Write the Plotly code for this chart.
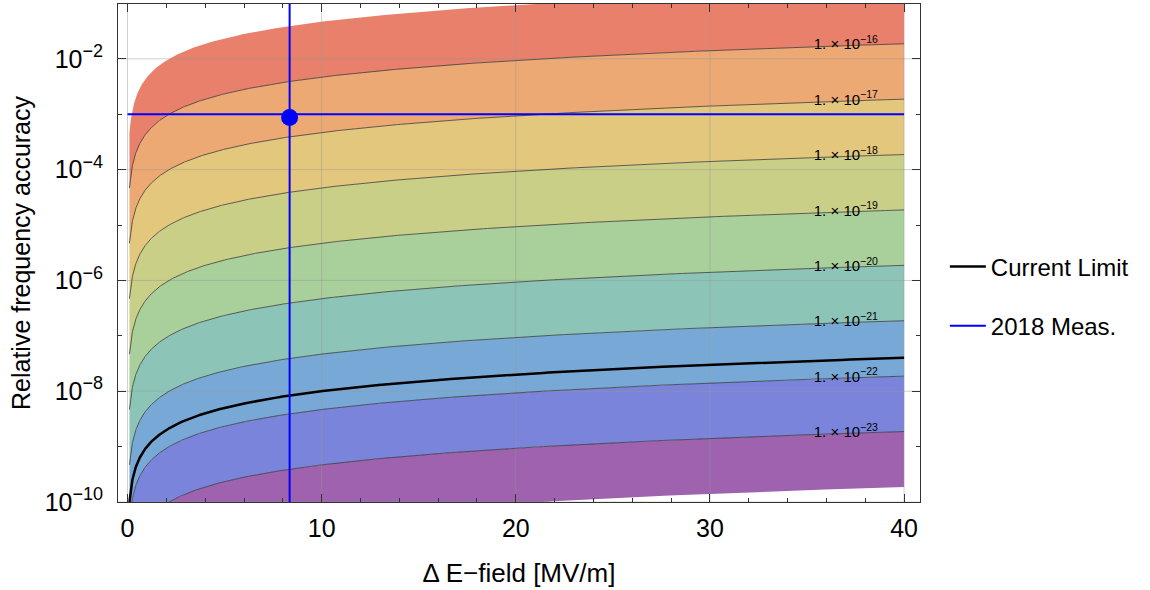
import numpy as np
import plotly.graph_objects as go

# Contour value = (accuracy / field) * 10**LOG_SCALE
LOG_SCALE = -12.67

# log10 of the contour values bounding each colour band (bottom -> top)
band_levels = [-24, -23, -22, -21, -20, -19, -18, -17, -16, -15]
band_colors = [
    "#9E62AE",  # purple
    "#7A84DA",  # blue-violet
    "#78A9D6",  # blue
    "#8DC4B8",  # teal
    "#A9CF9B",  # green
    "#C9CF87",  # yellow-green
    "#E3C77D",  # yellow-orange
    "#ECA974",  # orange
    "#E8806C",  # red
]
# labelled contour lines
line_levels = [-23, -22, -21, -20, -19, -18, -17, -16]

# field range covered by the contour map [MV/m]
field_min, field_max = 0.1, 40.0

# current limit: accuracy = slope * field
limit_slope = 1e-9

# 2018 measurement
meas_field = 8.35
meas_accuracy = 8.7e-4
meas_line_accuracy = 1e-3

# field at which the contour labels sit
label_field = 37.0

# axis ticks / grid
x_grid = [0, 10, 20, 30, 40]
y_tick_exponents = [-10, -8, -6, -4, -2]
x_range = [-0.49, 40.82]
y_range_log = [-10.0, -1.01]

FONT = "Liberation Sans, Arial, sans-serif"


def accuracy_at(field, level):
    return np.asarray(field) * 10.0 ** (level - LOG_SCALE)


field = np.geomspace(field_min, field_max, 500)
y_grid = [10.0 ** e for e in y_tick_exponents]
y_ticktext = [
    f"10<sup><span style='font-size:18px'>−{-e}</span></sup>" for e in y_tick_exponents
]

fig = go.Figure()

# coloured bands between successive contour levels
for lo, hi, col in zip(band_levels[:-1], band_levels[1:], band_colors):
    y_lo = accuracy_at(field, lo)
    y_hi = accuracy_at(field, hi)
    fig.add_trace(go.Scatter(
        x=np.concatenate([field, field[::-1]]),
        y=np.concatenate([y_lo, y_hi[::-1]]),
        fill="toself", fillcolor=col, mode="lines",
        line=dict(width=0, color=col),
        hoverinfo="skip", showlegend=False,
    ))

# grid lines drawn over the coloured map
grid_col = "rgba(150,150,150,0.45)"
y_lo_edge, y_hi_edge = 10 ** y_range_log[0], 10 ** y_range_log[1]
for gx in x_grid:
    fig.add_trace(go.Scatter(
        x=[gx, gx], y=[y_lo_edge * 0.5, y_hi_edge * 2], mode="lines",
        line=dict(color=grid_col, width=1), hoverinfo="skip", showlegend=False,
    ))
for gy in y_grid:
    fig.add_trace(go.Scatter(
        x=[x_range[0] - 1, x_range[1] + 1], y=[gy, gy], mode="lines",
        line=dict(color=grid_col, width=1), hoverinfo="skip", showlegend=False,
    ))

# contour lines
for lv in line_levels:
    fig.add_trace(go.Scatter(
        x=field, y=accuracy_at(field, lv), mode="lines",
        line=dict(color="rgba(50,50,50,0.75)", width=1),
        hoverinfo="skip", showlegend=False,
    ))

# current limit
fig.add_trace(go.Scatter(
    x=field, y=limit_slope * field, mode="lines",
    line=dict(color="black", width=2.5),
    name="Current Limit", legendgroup="limit",
))

# 2018 measurement cross-hair
fig.add_trace(go.Scatter(
    x=[meas_field, meas_field, None, 0, field_max],
    y=[y_lo_edge * 0.1, y_hi_edge * 10, None, meas_line_accuracy, meas_line_accuracy],
    mode="lines", line=dict(color="#0000FF", width=2),
    name="2018 Meas.", legendgroup="meas",
))
fig.add_trace(go.Scatter(
    x=[meas_field], y=[meas_accuracy], mode="markers",
    marker=dict(color="#0000FF", size=17),
    showlegend=False, legendgroup="meas",
))

# contour labels
fig.add_trace(go.Scatter(
    x=[label_field] * len(line_levels),
    y=[float(accuracy_at(label_field, lv)) for lv in line_levels],
    mode="text",
    text=[f"1. × 10<sup>−{-lv}</sup>" for lv in line_levels],
    textfont=dict(family=FONT, size=15, color="black"),
    textposition="middle center",
    hoverinfo="skip", showlegend=False,
))

axis_common = dict(
    showline=True, linecolor="#333333", linewidth=1, mirror="allticks",
    ticks="inside", tickcolor="#333333", ticklen=8, tickwidth=1,
    showgrid=False, zeroline=False,
)

fig.update_xaxes(
    **axis_common, range=x_range, tick0=0, dtick=10,
    tickfont=dict(family=FONT, size=25, color="black"),
    minor=dict(ticks="inside", ticklen=4, dtick=2, tickcolor="#333333", showgrid=False),
    title=dict(text="Δ E−field [MV/m]", font=dict(family=FONT, size=26, color="black"), standoff=22),
    ticklabelstandoff=4,
)
fig.update_yaxes(
    **axis_common, type="log", range=y_range_log,
    tickmode="array", tickvals=y_grid, ticktext=y_ticktext,
    tickfont=dict(family=FONT, size=25, color="black"),
    minor=dict(ticks="inside", ticklen=4, dtick=1, tickcolor="#333333", showgrid=False),
    title=dict(text="Relative frequency accuracy", font=dict(family=FONT, size=25, color="black"), standoff=6),
    ticklabelstandoff=9,
)

fig.update_layout(
    width=1150, height=590,
    margin=dict(l=118, r=230, t=4, b=88),
    plot_bgcolor="white", paper_bgcolor="white",
    font=dict(family=FONT, size=24, color="black"),
    legend=dict(
        x=1.031, xanchor="left", y=0.413, yanchor="middle",
        font=dict(family=FONT, size=24, color="black"),
        tracegroupgap=25, itemwidth=36, bgcolor="rgba(0,0,0,0)",
    ),
)

fig.write_html("out.html")
